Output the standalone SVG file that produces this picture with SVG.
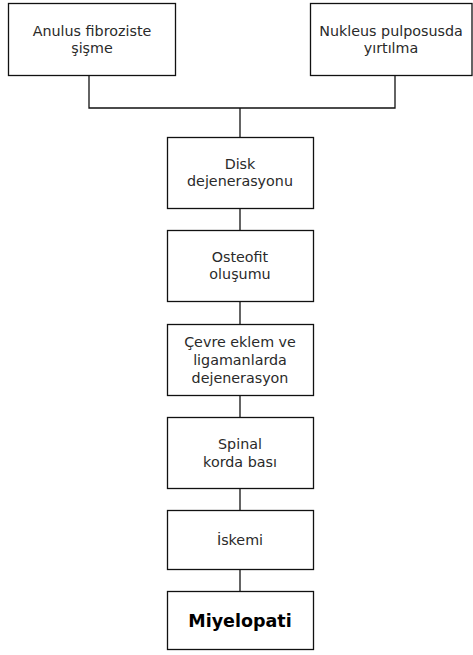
<svg xmlns="http://www.w3.org/2000/svg" width="473" height="655" viewBox="0 0 473 655">
<style>
.box{fill:#fff;stroke:#111;stroke-width:1.3}
.t{font-family:"DejaVu Sans","Open Sans","Liberation Sans",sans-serif;font-size:14.3px;fill:#2a2a2a;text-anchor:middle}
.b{font-family:"DejaVu Sans","Open Sans","Liberation Sans",sans-serif;font-size:17.5px;font-weight:bold;fill:#000;text-anchor:middle}
.c{fill:none;stroke:#111;stroke-width:1.3}
</style>
<rect width="473" height="655" fill="#fff"/>
<g id="connectors">
<polyline class="c" points="89,75 89,108 395,108 395,75"/>
<line class="c" x1="240" y1="108" x2="240" y2="137"/>
<line class="c" x1="240" y1="208" x2="240" y2="230"/>
<line class="c" x1="240" y1="302" x2="240" y2="324"/>
<line class="c" x1="240" y1="395" x2="240" y2="417"/>
<line class="c" x1="240" y1="489" x2="240" y2="510"/>
<line class="c" x1="240" y1="569" x2="240" y2="591"/>
</g>
<g id="anulus">
<rect class="box" x="8.5" y="3.5" width="167" height="72"/>
<text class="t" x="92" y="35.5">Anulus fibroziste</text>
<text class="t" x="92" y="52.5">şişme</text>
</g>
<g id="nukleus">
<rect class="box" x="310.5" y="3.5" width="161.5" height="72"/>
<text class="t" x="391" y="35.5">Nukleus pulposusda</text>
<text class="t" x="391" y="52.5">yırtılma</text>
</g>
<g id="disk">
<rect class="box" x="167.5" y="137.5" width="146" height="71"/>
<text class="t" x="240" y="168.5">Disk</text>
<text class="t" x="240" y="185.5">dejenerasyonu</text>
</g>
<g id="osteofit">
<rect class="box" x="167.5" y="230.5" width="146" height="71"/>
<text class="t" x="240" y="262">Osteofit</text>
<text class="t" x="240" y="279">oluşumu</text>
</g>
<g id="cevre">
<rect class="box" x="167.5" y="324.5" width="146" height="71"/>
<text class="t" x="240" y="347">Çevre eklem ve</text>
<text class="t" x="240" y="365">ligamanlarda</text>
<text class="t" x="240" y="383">dejenerasyon</text>
</g>
<g id="spinal">
<rect class="box" x="167.5" y="417.5" width="146" height="71"/>
<text class="t" x="240" y="449">Spinal</text>
<text class="t" x="240" y="467">korda bası</text>
</g>
<g id="iskemi">
<rect class="box" x="167.5" y="510.5" width="146" height="59"/>
<text class="t" x="240" y="545">İskemi</text>
</g>
<g id="miyelopati">
<rect class="box" x="167.5" y="591.5" width="146" height="58"/>
<text class="b" x="240" y="626.5">Miyelopati</text>
</g>
</svg>
